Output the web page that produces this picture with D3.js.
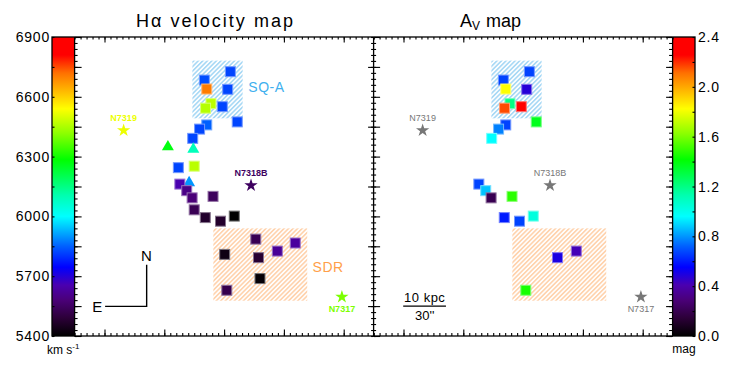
<!DOCTYPE html>
<html><head><meta charset="utf-8">
<script src="https://cdn.jsdelivr.net/npm/d3@7"></script>
<style>
body{margin:0;background:#fff}
svg{display:block}
text{font-family:"Liberation Sans",Arial,sans-serif}
</style>
</head><body>
<svg id="c" width="747" height="374"></svg>
<script>
// ---------------- data ----------------
// position of each knot (panel units), marker shape, Halpha velocity (km/s), Av (mag, null = not measured)
const ptX = [26.05,21.7,22.1,25.6,22.8,21.9,24.7,27.2,22.1,20.9,19.75,15.6,19.85,20.0,17.35,19.15,17.6,18.75,19.65,23.15,20.0,21.85,24.4,26.7,30.3,36.9,33.9,25.1,30.75,31.0,25.45];
const ptY = [44.2,42.8,41.3,41.25,38.85,38.1,38.35,35.8,35.3,34.6,33.05,31.8,31.4,28.4,28.15,25.8,25.4,24.3,23.1,23.35,21.1,19.8,19.2,20.05,16.2,15.55,14.2,13.65,13.1,9.6,7.65];
const ptShape = ["s","s","s","s","s","s","s","s","s","s","s","t","t","s","s","t","s","s","s","s","s","s","s","s","s","s","s","s","s","s","s"];
const ptVel = [5820,5830,6705,5820,6465,6460,5820,5820,5850,5820,5820,6270,6090,6465,5820,5900,5655,5600,5580,5540,5530,5470,5470,5400,5530,5630,5620,5430,5480,5410,5520];
const ptAv = [0.67,0.67,1.82,0.48,1.2,2.16,2.26,1.37,0.67,0.77,0.96,null,null,null,null,null,0.67,0.87,0.2,1.48,null,0.6,0.67,1.03,null,null,0.42,null,0.5,null,1.45];

const galName = ["N7319","N7318B","N7317"];
const galX = [8.2,29.5,44.7];
const galY = [34.55,25.35,6.7];
const galVel = [6520,5545,6400];
const galLabelBelow = [false,false,true];

const regName = ["SQ-A","SDR"];
const regX0 = [19.7,23.2], regX1 = [28.1,38.9];
const regY0 = [36.4,5.9], regY1 = [46.05,18.0];
const regLabelX = [29.05,39.8], regLabelY = [41.7,11.6];
const regColor = ["#a9d9f5","#ffd3ae"];
const regTextColor = ["#3fb0ee","#ffa04a"];

const velTicks = [5400,5700,6000,6300,6600,6900];
const avTicks = [0.0,0.4,0.8,1.2,1.6,2.0,2.4];
const titles = ["H\u03b1 velocity map","A"];

// rainbow colour table
const ctT = [0,0.06,0.12,0.17,0.23,0.30,0.37,0.40,0.47,0.59,0.68,0.76,0.84,0.88,0.94,1];
const ctC = ["#000000","#2c0038","#4a0078","#4a00b0","#0000ff","#0060ff","#00d0ff","#00ffff","#00ffb0","#00ff00","#90ff00","#ffff00","#ffa000","#ff7000","#ff0000","#ff0000"];

// ---------------- layout ----------------
const svg = d3.select("#c");
const yTop = 37, yBot = 336;
const cbL = [52, 74.6], cbR = [672.6, 695];
const xL = d3.scaleLinear([0,50],[74.6,373.6]);
const xR = d3.scaleLinear([0,50],[373.6,672.6]);
const y = d3.scaleLinear([0,50],[yBot,yTop]);
const vY = d3.scaleLinear([5400,6900],[yBot,yTop]);
const aY = d3.scaleLinear([0,2.4],[yBot,yTop]);
const ct = d3.scaleLinear(ctT, ctC).interpolate(d3.interpolateRgb).clamp(true);
const velCol = v => ct((v-5400)/1500);
const avCol = a => ct(a/2.4);

const defs = svg.append("defs");
const grad = defs.append("linearGradient").attr("id","cbg").attr("x1",0).attr("y1",1).attr("x2",0).attr("y2",0);
ctT.forEach((t,i)=>grad.append("stop").attr("offset",t).attr("stop-color",ctC[i]));
regName.forEach((n,i)=>{
  const p = defs.append("pattern").attr("id","hatch"+i).attr("patternUnits","userSpaceOnUse")
    .attr("width",3.2).attr("height",3.2).attr("patternTransform","rotate(45)");
  p.append("rect").attr("width",3.2).attr("height",3.2).attr("fill","#fff");
  p.append("line").attr("x1",0.8).attr("y1",0).attr("x2",0.8).attr("y2",3.2)
    .attr("stroke",regColor[i]).attr("stroke-width",1.7);
});

// colorbars
[cbL,cbR].forEach(cb=>{
  svg.append("rect").attr("x",cb[0]).attr("y",yTop).attr("width",cb[1]-cb[0]).attr("height",yBot-yTop)
    .attr("fill","url(#cbg)");
});

// panels
function drawPanel(x, isVel){
  const g = svg.append("g");
  regName.forEach((n,i)=>{
    g.append("rect").attr("x",x(regX0[i])).attr("y",y(regY1[i]))
      .attr("width",x(regX1[i])-x(regX0[i])).attr("height",y(regY0[i])-y(regY1[i]))
      .attr("fill","url(#hatch"+i+")");
    if(isVel){
      g.append("text").attr("x",x(regLabelX[i])).attr("y",y(regLabelY[i])).attr("dy","0.36em")
        .attr("font-size",14).attr("fill",regTextColor[i]).attr("letter-spacing",0.5).text(n);
    }
  });
  ptX.forEach((px,i)=>{
    const val = isVel ? ptVel[i] : ptAv[i];
    if(val===null) return;
    const col = isVel ? velCol(val) : avCol(val);
    const halo = d3.interpolateRgb(col,"#ffffff")(0.45);
    const cx = x(px), cy = y(ptY[i]);
    if(ptShape[i]==="s"){
      g.append("rect").attr("x",cx-5).attr("y",cy-5).attr("width",10).attr("height",10)
        .attr("fill",col).attr("stroke",halo).attr("stroke-width",1);
    } else {
      g.append("path").attr("d",d3.symbol().type(d3.symbolTriangle).size(62)())
        .attr("transform",`translate(${cx},${cy+1})`).attr("fill",col);
    }
  });
  galName.forEach((n,i)=>{
    const col = isVel ? velCol(galVel[i]) : "#777777";
    const cx = x(galX[i]), cy = y(galY[i]);
    g.append("path").attr("d",d3.symbol().type(d3.symbolStar).size(55)())
      .attr("transform",`translate(${cx},${cy+1})`).attr("fill",col);
    g.append("text").attr("x",cx).attr("y",galLabelBelow[i]? cy+16 : cy-8)
      .attr("text-anchor","middle").attr("font-size",9).attr("font-weight", isVel?"bold":"normal")
      .attr("fill",col).text(n);
  });
}
drawPanel(xL,true);
drawPanel(xR,false);

// compass (left panel)
const cmp = svg.append("g").attr("stroke","#000").attr("stroke-width",1.4).attr("fill","none");
cmp.append("path").attr("d",`M${xL(5.1)},${y(4.95)}H${xL(12.05)}V${y(11.9)}`);
svg.append("text").attr("x",xL(12.0)).attr("y",y(13.5)).attr("dy","0.36em").attr("text-anchor","middle")
  .attr("font-size",15).text("N");
svg.append("text").attr("x",xL(3.8)).attr("y",y(4.9)).attr("dy","0.36em").attr("text-anchor","middle")
  .attr("font-size",15).text("E");

// scale bar (right panel)
svg.append("line").attr("x1",xR(4.95)).attr("x2",xR(12.1)).attr("y1",y(5.0)).attr("y2",y(5.0))
  .attr("stroke","#000").attr("stroke-width",1.4);
svg.append("text").attr("x",xR(8.55)).attr("y",y(5.0)-4).attr("text-anchor","middle")
  .attr("font-size",13).attr("letter-spacing",0.5).text("10 kpc");
svg.append("text").attr("x",xR(8.55)).attr("y",y(5.0)+14).attr("text-anchor","middle")
  .attr("font-size",13).text("30''");

// ---------------- axes / ticks ----------------
const unitTicks = d3.range(0,51);
const minorX = unitTicks, majorX = [5,15,25,35,45];
const majY5 = d3.range(0,51,5);
function ticks(axisGen, scale, vals, size, tx, ty){
  const g = svg.append("g").attr("transform",`translate(${tx},${ty})`)
    .call(axisGen(scale).tickValues(vals).tickSize(size).tickFormat(""));
  g.select(".domain").remove();
  g.selectAll("line").attr("stroke","#000").attr("stroke-width",1.1);
  return g;
}
[xL,xR].forEach(x=>{
  ticks(d3.axisBottom, x, minorX, 2.5, 0, yTop);
  ticks(d3.axisBottom, x, majorX, 5.5, 0, yTop);
  ticks(d3.axisTop, x, minorX, 3, 0, yBot);
  ticks(d3.axisTop, x, majorX, 6.5, 0, yBot);
});
ticks(d3.axisRight, y, unitTicks, 3, xL(0), 0);
ticks(d3.axisRight, y, majY5, 7, xL(0), 0);
ticks(d3.axisLeft, y, [5,15,25,35,45], 5.5, xL(50), 0);
ticks(d3.axisRight, y, unitTicks, 2.5, xR(0), 0);
ticks(d3.axisLeft, y, unitTicks, 2.5, xR(0), 0);
ticks(d3.axisRight, y, majY5, 6.5, xR(0), 0);
ticks(d3.axisLeft, y, unitTicks, 3.5, xR(50), 0);
ticks(d3.axisLeft, y, majY5, 6.5, xR(50), 0);
ticks(d3.axisRight, vY, d3.range(5400,6901,150), 2.5, cbL[0], 0);
ticks(d3.axisLeft, aY, d3.range(0,2.41,0.2), 2.5, cbR[1], 0);

// frames
const fr = svg.append("g").attr("fill","none").attr("stroke","#000").attr("stroke-width",1.3);
fr.append("rect").attr("x",cbL[0]).attr("y",yTop).attr("width",cbR[1]-cbL[0]).attr("height",yBot-yTop);
[xL(0), xL(50), xR(50)].forEach(xx=>fr.append("line").attr("x1",xx).attr("x2",xx).attr("y1",yTop).attr("y2",yBot));

// colorbar labels
const lab = svg.append("g").attr("font-size",14).attr("fill","#000");
velTicks.forEach(v=>lab.append("text").attr("x",cbL[0]-2).attr("y",vY(v)).attr("dy","0.36em")
  .attr("text-anchor","end").attr("letter-spacing",0.8).text(v));
avTicks.forEach(a=>lab.append("text").attr("x",cbR[1]+3).attr("y",aY(a)).attr("dy","0.36em")
  .attr("letter-spacing",0.8).text(d3.format(".1f")(a)));

// units
const u = svg.append("text").attr("x",47).attr("y",354).attr("font-size",12);
u.append("tspan").text("km  s");
u.append("tspan").attr("dy",-5).attr("font-size",8).text("-1");
svg.append("text").attr("x",684).attr("y",353).attr("text-anchor","middle").attr("font-size",12).text("mag");

// titles
svg.append("text").attr("x",136).attr("y",27).attr("font-size",18).attr("textLength",157)
  .attr("lengthAdjust","spacing").text(titles[0]);
const t2 = svg.append("text").attr("x",460).attr("y",27).attr("font-size",18);
t2.append("tspan").text(titles[1]);
t2.append("tspan").attr("dy",3).attr("font-size",12).text("V");
t2.append("tspan").attr("dy",-3).attr("dx",6).text("map");
</script>
</body></html>
